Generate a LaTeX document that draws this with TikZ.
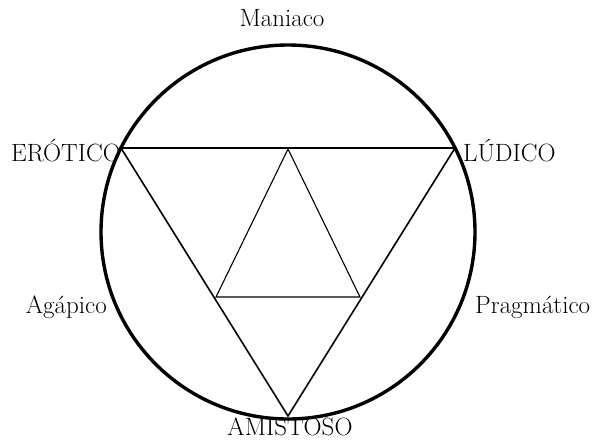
\documentclass[tikz,border=0pt]{standalone}
\usepackage{fontspec}
\begin{document}
\begin{tikzpicture}[x=1pt,y=-1pt,
  lbl/.style={inner sep=0pt,font=\fontsize{25}{30}\selectfont},
  ring/.style={line width=3.4pt},
  outer/.style={line width=1.6pt},
  inner/.style={line width=1.1pt}]
\useasboundingbox (0,0) rectangle (604,440);
\coordinate (O) at (288,232);
\coordinate (E) at (121,148);
\coordinate (L) at (455,148);
\coordinate (A) at (288,416);
\coordinate (T) at (288,149);
\coordinate (BL) at (216,297);
\coordinate (BR) at (360,297);
\draw[ring] (O) circle (187pt);
\draw[outer] (E) -- (L) -- (A) -- cycle;
\draw[inner] (T) -- (BL) -- (BR) -- cycle;
\node[lbl] (man) at (282,18) {Maniaco};
\node[lbl,anchor=east] (ero) at (121,151) {ERÓTICO};
\node[lbl,anchor=west] (lud) at (463,151) {LÚDICO};
\node[lbl,anchor=east] (aga) at (107,307) {Agápico};
\node[lbl,anchor=west] (pra) at (475,307) {Pragmático};
\node[lbl,anchor=base] (ami) at (290,435) {AMISTOSO};
\end{tikzpicture}
\end{document}
